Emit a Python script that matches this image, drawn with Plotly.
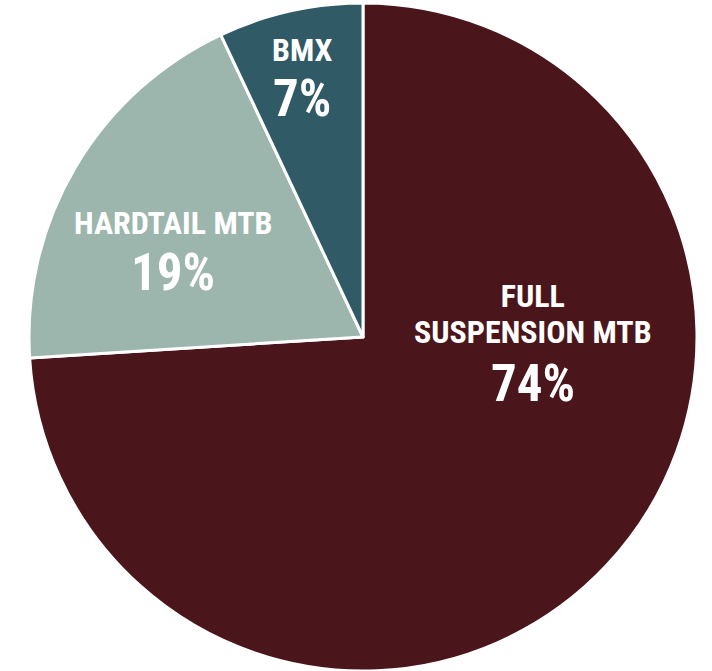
import plotly.graph_objects as go

# Data
categories = ["FULL SUSPENSION MTB", "HARDTAIL MTB", "BMX"]
label_lines = [["FULL", "SUSPENSION MTB"], ["HARDTAIL MTB"], ["BMX"]]
values = [74, 19, 7]
colors = ["#4a161c", "#9cb5ad", "#2f5a66"]

W, H = 712, 671

fig = go.Figure(go.Pie(
    labels=categories,
    values=values,
    sort=False,
    direction="clockwise",
    rotation=0,
    textinfo="none",
    hoverinfo="label+percent",
    marker=dict(colors=colors, line=dict(color="white", width=3)),
    domain=dict(x=[29 / W, 697 / W], y=[0, 668 / H]),
    showlegend=False,
))

# label block / percentage placement (pixel centres)
label_pos = [(533, 314), (173, 223), (302, 50)]
pct_pos = [(533, 383), (173, 272), (302, 99)]

font_family = "Roboto Condensed, Roboto, Arial Narrow, sans-serif"
LABEL_SIZE, PCT_SIZE = 32, 51
annotations = []
for lines, val, (lx, ly), (px, py) in zip(label_lines, values, label_pos, pct_pos):
    txt = "<br>".join(f"<span style='font-size:{LABEL_SIZE}px'><b>{ln}</b></span>" for ln in lines)
    annotations.append(dict(
        x=lx / W, y=1 - ly / H, xref="paper", yref="paper",
        text=txt, showarrow=False,
        font=dict(family=font_family, size=28, color="white"),
        xanchor="center", yanchor="middle", align="center",
    ))
    annotations.append(dict(
        x=px / W, y=1 - py / H, xref="paper", yref="paper",
        text=f"<b>{val}%</b>", showarrow=False,
        font=dict(family=font_family, size=PCT_SIZE, color="white"),
        xanchor="center", yanchor="middle",
    ))

fig.update_layout(
    width=W, height=H,
    margin=dict(l=0, r=0, t=0, b=0),
    paper_bgcolor="white",
    plot_bgcolor="white",
    annotations=annotations,
)

fig.write_html(
    "out.html",
    config={"displayModeBar": False},
    post_script="document.body.style.margin='0';document.body.style.overflow='hidden';",
)
